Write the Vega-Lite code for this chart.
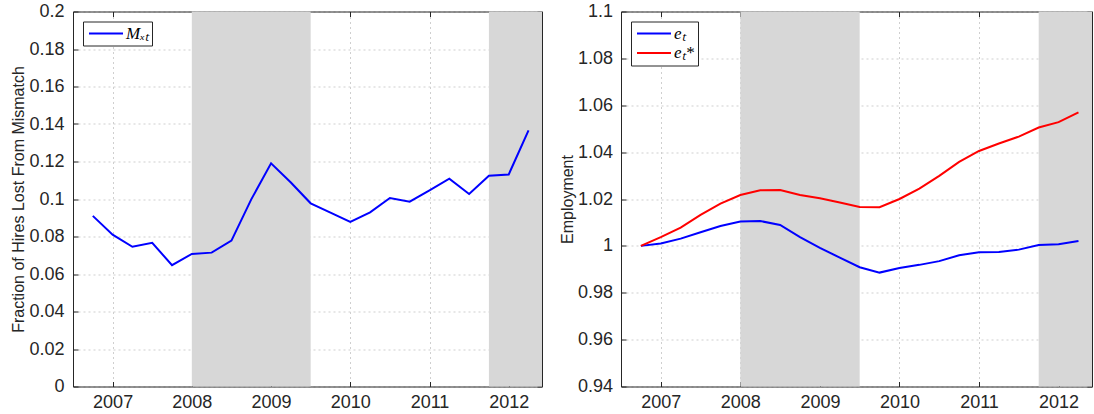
{
  "$schema": "https://vega.github.io/schema/vega-lite/v6.json",
  "padding": {"left": 10, "top": 2.5, "right": 0, "bottom": 0},
  "background": "white",
  "bounds": "flush",
  "spacing": 79,
  "datasets": {
    "recessions": [
      {"date": 2008, "end": 2009.5},
      {"date": 2011.75, "end": 2012.42}
    ],
    "mismatch": [
      {"date": 2006.75, "value": 0.091, "series": "Mₓₜ"},
      {"date": 2007.0, "value": 0.081, "series": "Mₓₜ"},
      {"date": 2007.25, "value": 0.0745, "series": "Mₓₜ"},
      {"date": 2007.5, "value": 0.0766, "series": "Mₓₜ"},
      {"date": 2007.75, "value": 0.0647, "series": "Mₓₜ"},
      {"date": 2008.0, "value": 0.0707, "series": "Mₓₜ"},
      {"date": 2008.25, "value": 0.0714, "series": "Mₓₜ"},
      {"date": 2008.5, "value": 0.0778, "series": "Mₓₜ"},
      {"date": 2008.75, "value": 0.0998, "series": "Mₓₜ"},
      {"date": 2009.0, "value": 0.119, "series": "Mₓₜ"},
      {"date": 2009.25, "value": 0.1088, "series": "Mₓₜ"},
      {"date": 2009.5, "value": 0.0977, "series": "Mₓₜ"},
      {"date": 2009.75, "value": 0.0927, "series": "Mₓₜ"},
      {"date": 2010.0, "value": 0.0878, "series": "Mₓₜ"},
      {"date": 2010.25, "value": 0.0929, "series": "Mₓₜ"},
      {"date": 2010.5, "value": 0.1005, "series": "Mₓₜ"},
      {"date": 2010.75, "value": 0.0986, "series": "Mₓₜ"},
      {"date": 2011.0, "value": 0.1046, "series": "Mₓₜ"},
      {"date": 2011.25, "value": 0.1108, "series": "Mₓₜ"},
      {"date": 2011.5, "value": 0.1027, "series": "Mₓₜ"},
      {"date": 2011.75, "value": 0.1124, "series": "Mₓₜ"},
      {"date": 2012.0, "value": 0.1131, "series": "Mₓₜ"},
      {"date": 2012.25, "value": 0.1366, "series": "Mₓₜ"}
    ],
    "employment": [
      {"date": 2006.75, "value": 1.0, "series": "eₜ"},
      {"date": 2007.0, "value": 1.001, "series": "eₜ"},
      {"date": 2007.25, "value": 1.0031, "series": "eₜ"},
      {"date": 2007.5, "value": 1.0058, "series": "eₜ"},
      {"date": 2007.75, "value": 1.0085, "series": "eₜ"},
      {"date": 2008.0, "value": 1.0104, "series": "eₜ"},
      {"date": 2008.25, "value": 1.0106, "series": "eₜ"},
      {"date": 2008.5, "value": 1.0089, "series": "eₜ"},
      {"date": 2008.75, "value": 1.0037, "series": "eₜ"},
      {"date": 2009.0, "value": 0.9991, "series": "eₜ"},
      {"date": 2009.25, "value": 0.995, "series": "eₜ"},
      {"date": 2009.5, "value": 0.9909, "series": "eₜ"},
      {"date": 2009.75, "value": 0.9886, "series": "eₜ"},
      {"date": 2010.0, "value": 0.9906, "series": "eₜ"},
      {"date": 2010.25, "value": 0.9919, "series": "eₜ"},
      {"date": 2010.5, "value": 0.9935, "series": "eₜ"},
      {"date": 2010.75, "value": 0.996, "series": "eₜ"},
      {"date": 2011.0, "value": 0.9973, "series": "eₜ"},
      {"date": 2011.25, "value": 0.9974, "series": "eₜ"},
      {"date": 2011.5, "value": 0.9984, "series": "eₜ"},
      {"date": 2011.75, "value": 1.0004, "series": "eₜ"},
      {"date": 2012.0, "value": 1.0007, "series": "eₜ"},
      {"date": 2012.25, "value": 1.0021, "series": "eₜ"},
      {"date": 2006.75, "value": 1.0, "series": "eₜ*"},
      {"date": 2007.0, "value": 1.0037, "series": "eₜ*"},
      {"date": 2007.25, "value": 1.0078, "series": "eₜ*"},
      {"date": 2007.5, "value": 1.0132, "series": "eₜ*"},
      {"date": 2007.75, "value": 1.018, "series": "eₜ*"},
      {"date": 2008.0, "value": 1.0217, "series": "eₜ*"},
      {"date": 2008.25, "value": 1.0237, "series": "eₜ*"},
      {"date": 2008.5, "value": 1.0238, "series": "eₜ*"},
      {"date": 2008.75, "value": 1.0217, "series": "eₜ*"},
      {"date": 2009.0, "value": 1.0203, "series": "eₜ*"},
      {"date": 2009.25, "value": 1.0185, "series": "eₜ*"},
      {"date": 2009.5, "value": 1.0166, "series": "eₜ*"},
      {"date": 2009.75, "value": 1.0165, "series": "eₜ*"},
      {"date": 2010.0, "value": 1.02, "series": "eₜ*"},
      {"date": 2010.25, "value": 1.0244, "series": "eₜ*"},
      {"date": 2010.5, "value": 1.0299, "series": "eₜ*"},
      {"date": 2010.75, "value": 1.0358, "series": "eₜ*"},
      {"date": 2011.0, "value": 1.0405, "series": "eₜ*"},
      {"date": 2011.25, "value": 1.0437, "series": "eₜ*"},
      {"date": 2011.5, "value": 1.0466, "series": "eₜ*"},
      {"date": 2011.75, "value": 1.0505, "series": "eₜ*"},
      {"date": 2012.0, "value": 1.0528, "series": "eₜ*"},
      {"date": 2012.25, "value": 1.057, "series": "eₜ*"}
    ]
  },
  "hconcat": [
    {
      "width": 469,
      "height": 375,
      "layer": [
        {
          "encoding": {
            "x": {
              "field": "date", "type": "quantitative",
              "scale": {"domain": [2006.5, 2012.42], "nice": false, "zero": false},
              "axis": {"orient": "bottom", "values": [2007, 2008, 2009, 2010, 2011, 2012], "format": "d", "title": null, "grid": true, "tickSize": -5, "labelPadding": 12}
            }
          },
          "layer": [
            {
              "data": {"name": "recessions"},
              "mark": {"type": "rect", "color": "#d7d7d7"},
              "encoding": {"x2": {"field": "end"}}
            },
            {
              "data": {"name": "mismatch"},
              "mark": {"type": "line", "strokeWidth": 2},
              "encoding": {
                "y": {
                  "field": "value", "type": "quantitative",
                  "scale": {"domain": [0, 0.2], "nice": false, "zero": false},
                  "axis": {"orient": "left", "values": [0, 0.02, 0.04, 0.06, 0.08, 0.1, 0.12, 0.14, 0.16, 0.18, 0.2], "format": "~g", "title": "Fraction of Hires Lost From Mismatch", "grid": true, "tickSize": -5, "labelPadding": 14, "titlePadding": 2}
                },
                "color": {
                  "field": "series", "type": "nominal",
                  "scale": {"domain": ["Mₓₜ"], "range": ["#0000ff"]},
                  "legend": {"title": null, "orient": "top-left"}
                }
              }
            }
          ]
        },
        {
          "data": {"name": "mismatch"},
          "mark": {"type": "line", "opacity": 0},
          "encoding": {
            "x": {
              "field": "date", "type": "quantitative",
              "axis": {"orient": "top", "values": [2007, 2008, 2009, 2010, 2011, 2012], "labels": false, "title": null, "grid": false, "tickSize": -5}
            },
            "y": {
              "field": "value", "type": "quantitative",
              "axis": {"orient": "right", "values": [0, 0.02, 0.04, 0.06, 0.08, 0.1, 0.12, 0.14, 0.16, 0.18, 0.2], "labels": false, "title": null, "grid": false, "tickSize": -5}
            }
          }
        }
      ],
      "resolve": {"axis": {"x": "independent", "y": "independent"}}
    },
    {
      "width": 471,
      "height": 375,
      "layer": [
        {
          "encoding": {
            "x": {
              "field": "date", "type": "quantitative",
              "scale": {"domain": [2006.5, 2012.42], "nice": false, "zero": false},
              "axis": {"orient": "bottom", "values": [2007, 2008, 2009, 2010, 2011, 2012], "format": "d", "title": null, "grid": true, "tickSize": -5, "labelPadding": 12}
            }
          },
          "layer": [
            {
              "data": {"name": "recessions"},
              "mark": {"type": "rect", "color": "#d7d7d7"},
              "encoding": {"x2": {"field": "end"}}
            },
            {
              "data": {"name": "employment"},
              "mark": {"type": "line", "strokeWidth": 2},
              "encoding": {
                "y": {
                  "field": "value", "type": "quantitative",
                  "scale": {"domain": [0.94, 1.1], "nice": false, "zero": false},
                  "axis": {"orient": "left", "values": [0.94, 0.96, 0.98, 1, 1.02, 1.04, 1.06, 1.08, 1.1], "format": "~g", "title": "Employment", "grid": true, "tickSize": -5, "labelPadding": 13.5, "titlePadding": 2}
                },
                "color": {
                  "field": "series", "type": "nominal",
                  "scale": {"domain": ["eₜ", "eₜ*"], "range": ["#0000ff", "#ff0000"]},
                  "legend": {"title": null, "orient": "top-left"}
                }
              }
            }
          ]
        },
        {
          "data": {"name": "employment"},
          "mark": {"type": "line", "opacity": 0},
          "encoding": {
            "x": {
              "field": "date", "type": "quantitative",
              "axis": {"orient": "top", "values": [2007, 2008, 2009, 2010, 2011, 2012], "labels": false, "title": null, "grid": false, "tickSize": -5}
            },
            "y": {
              "field": "value", "type": "quantitative",
              "axis": {"orient": "right", "values": [0.94, 0.96, 0.98, 1, 1.02, 1.04, 1.06, 1.08, 1.1], "labels": false, "title": null, "grid": false, "tickSize": -5}
            }
          }
        }
      ],
      "resolve": {"axis": {"x": "independent", "y": "independent"}}
    }
  ],
  "resolve": {"scale": {"color": "independent"}, "legend": {"color": "independent"}},
  "config": {
    "view": {"stroke": null},
    "axis": {
      "zindex": 1,
      "domainColor": "#262626",
      "domainWidth": 1,
      "tickColor": "#262626",
      "tickWidth": 1,
      "labelColor": "#262626",
      "labelFont": "Liberation Sans",
      "labelFontSize": 18,
      "titleColor": "#262626",
      "titleFont": "Liberation Sans",
      "titleFontSize": 16,
      "titleFontWeight": "normal",
      "gridColor": "#cfcfcf",
      "gridOpacity": 1,
      "gridDash": [2, 3],
      "gridWidth": 1
    },
    "legend": {
      "symbolType": "stroke",
      "symbolSize": 1156,
      "symbolStrokeWidth": 2,
      "clipHeight": 18,
      "rowPadding": 1.5,
      "padding": 3,
      "offset": 10,
      "strokeColor": "#262626",
      "fillColor": "white",
      "labelFont": "Liberation Serif",
      "labelFontStyle": "italic",
      "labelFontSize": 17,
      "labelColor": "black",
      "symbolOffset": 2,
      "labelOffset": 2
    }
  }
}
